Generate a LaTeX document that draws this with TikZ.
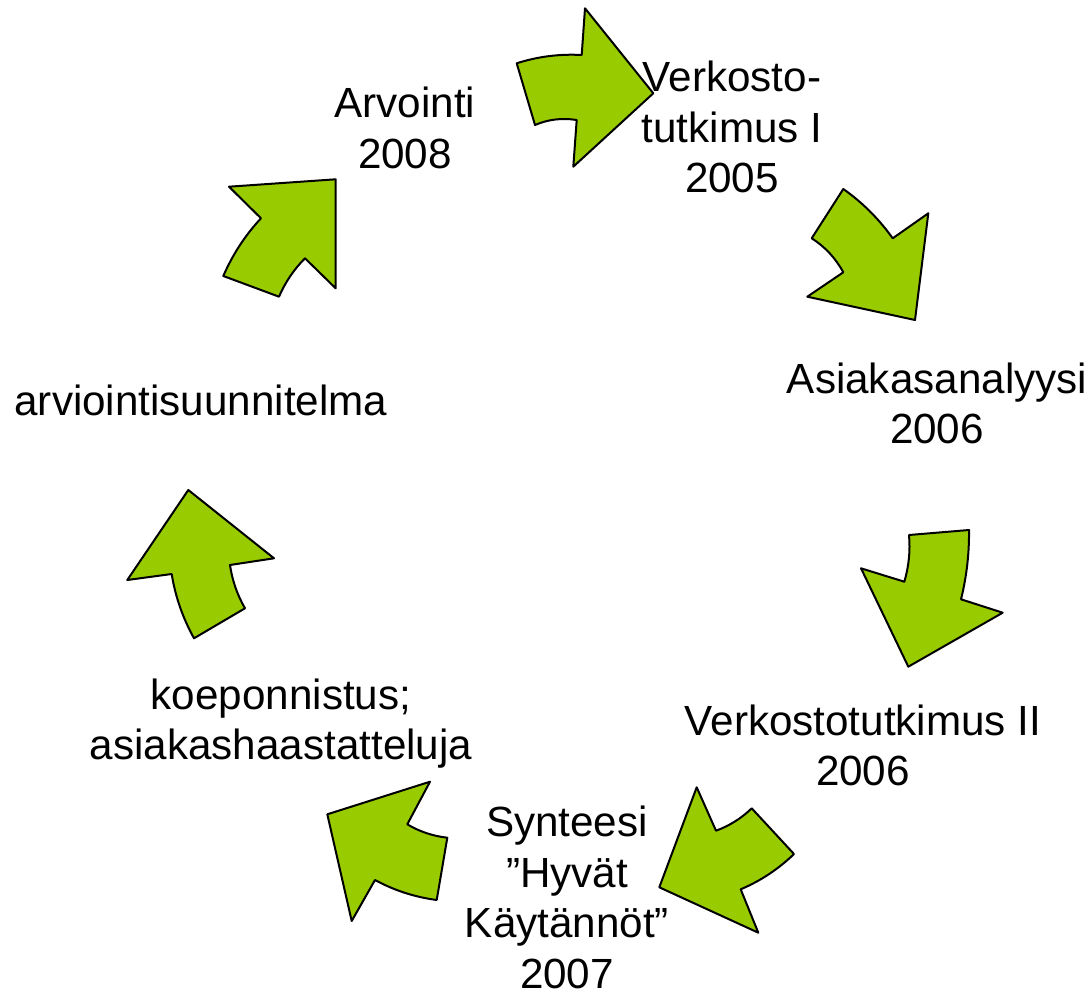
\documentclass[tikz,border=0pt]{standalone}
\usepackage{fontspec}
\setmainfont{Liberation Sans}
\definecolor{agreen}{RGB}{153,204,0}
\newcommand{\stk}[1]{\vtop{\halign{\hfil##\hfil\cr#1\crcr}}}
\tikzset{
  arrowshape/.style={fill=agreen, draw=black, line width=2pt, line join=round},
  lbl/.style={anchor=base, inner sep=0pt, font=\fontsize{42.2}{50.5}\selectfont}
}
\begin{document}
\begin{tikzpicture}[x=1pt,y=-1pt]
\useasboundingbox (0,0) rectangle (1092,995);
% arrows
\draw[arrowshape] (516.7,63.3) .. controls (537.9,56.5) and (559.5,53.8) .. (581.7,55) -- (585,8.3) -- (653.3,93.3) -- (573.3,166.7) -- (576.7,120) .. controls (562.3,117.7) and (548.4,119.3) .. (535,125) -- cycle;
\draw[arrowshape] (843.3,189) .. controls (862.6,202.6) and (879,219.1) .. (892.7,238.3) -- (928.3,213.3) -- (915,320) -- (807.3,296.7) -- (843.3,272.3) .. controls (835.6,258.2) and (825,246.8) .. (811.7,238.3) -- cycle;
\draw[arrowshape] (909,535) -- (969,530) .. controls (969.3,553.1) and (966.7,576.2) .. (961,599.3) -- (1002.7,612.7) -- (908.3,666.7) -- (861,568.3) -- (904.3,581.7) .. controls (908.9,566.1) and (910.4,550.6) .. (909,535) -- cycle;
\draw[arrowshape] (696.7,787.3) -- (716,830.7) .. controls (729.4,825.8) and (741.3,818.4) .. (751.7,808.3) -- (794,854) .. controls (778.4,869.1) and (760.7,880.8) .. (740.7,889.3) -- (758.3,932.7) -- (659.3,887.3) -- cycle;
\draw[arrowshape] (327.3,814.3) -- (430,781.7) -- (407.3,824.3) .. controls (419.7,831.7) and (433.1,836.1) .. (447.3,837.7) -- (436.7,900) .. controls (414.9,897.1) and (394.4,890.5) .. (375,880) -- (351.7,921) -- cycle;
\draw[arrowshape] (188.3,490) -- (274,558.3) -- (230,565) .. controls (232.2,580.3) and (237.2,594.8) .. (245,608.3) -- (194,638.3) .. controls (182.8,618.1) and (175.3,596.6) .. (171.7,574) -- (127.3,580) -- cycle;
\draw[arrowshape] (229,186.7) -- (335.7,179.3) -- (335.7,288.3) -- (305,258.3) .. controls (293.9,269.4) and (285.3,282.2) .. (279,296.7) -- (223.3,276) .. controls (232.6,254.6) and (245.1,235.3) .. (261,218.3) -- cycle;
% labels
\node[lbl] (arv) at (405,117.7) {\stk{Arvointi\cr 2008}};
\node[lbl] (verk1) at (732,92) {\stk{Verkosto-\cr tutkimus I\cr 2005}};
\node[lbl] (asiak) at (937,393) {\stk{Asiakasanalyysi\cr 2006}};
\node[lbl] (verk2) at (863,735) {\stk{Verkostotutkimus II\cr 2006}};
\node[lbl] (synt) at (567,836.7) {\stk{Synteesi\cr ”Hyvät\cr Käytännöt”\cr 2007}};
\node[lbl] (koe) at (281,709) {\stk{koeponnistus;\cr asiakashaastatteluja}};
\node[lbl] (suun) at (201,415) {arviointisuunnitelma};
\end{tikzpicture}
\end{document}
